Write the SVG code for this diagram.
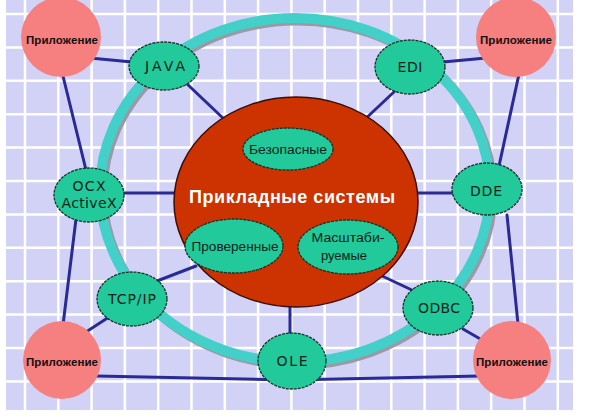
<svg xmlns="http://www.w3.org/2000/svg" width="590" height="418" viewBox="0 0 590 418">
<defs>
<style>
.grid line{stroke:#ffffff;stroke-width:2.5}
.conn line,.conn polyline{stroke:#2a2a96;stroke-width:3;fill:none;stroke-linecap:round}
.node{fill:#22c99b;stroke:#123326;stroke-width:1.3;stroke-dasharray:3 1}
.app{fill:#f67f7f}
.lbl{font-family:"DejaVu Sans","Liberation Sans",sans-serif;font-size:14px;fill:#0a2218;text-anchor:middle}
.in{font-family:"Liberation Sans",Arial,sans-serif;font-size:13px;fill:#0a2218;text-anchor:middle}
.applbl{font-family:"Liberation Sans",Arial,sans-serif;font-size:11.5px;font-weight:bold;fill:#111111;text-anchor:middle}
.title{font-family:"Liberation Sans",Arial,sans-serif;font-size:18px;font-weight:bold;fill:#ffffff;text-anchor:middle}
</style>
</defs>
<rect x="0" y="0" width="590" height="418" fill="#ffffff"/>
<rect x="6" y="0" width="567" height="410" fill="#d2d2f7"/>
<g class="grid">
<line x1="25" y1="0" x2="25" y2="410"/><line x1="58.3" y1="0" x2="58.3" y2="410"/><line x1="91.6" y1="0" x2="91.6" y2="410"/><line x1="124.9" y1="0" x2="124.9" y2="410"/><line x1="158.2" y1="0" x2="158.2" y2="410"/><line x1="191.5" y1="0" x2="191.5" y2="410"/><line x1="224.8" y1="0" x2="224.8" y2="410"/><line x1="258.1" y1="0" x2="258.1" y2="410"/><line x1="291.4" y1="0" x2="291.4" y2="410"/><line x1="324.7" y1="0" x2="324.7" y2="410"/><line x1="358" y1="0" x2="358" y2="410"/><line x1="391.3" y1="0" x2="391.3" y2="410"/><line x1="424.6" y1="0" x2="424.6" y2="410"/><line x1="457.9" y1="0" x2="457.9" y2="410"/><line x1="491.2" y1="0" x2="491.2" y2="410"/><line x1="524.5" y1="0" x2="524.5" y2="410"/><line x1="557.8" y1="0" x2="557.8" y2="410"/>
<line x1="6" y1="14" x2="573" y2="14"/><line x1="6" y1="47.4" x2="573" y2="47.4"/><line x1="6" y1="80.8" x2="573" y2="80.8"/><line x1="6" y1="114.2" x2="573" y2="114.2"/><line x1="6" y1="147.6" x2="573" y2="147.6"/><line x1="6" y1="181" x2="573" y2="181"/><line x1="6" y1="214.4" x2="573" y2="214.4"/><line x1="6" y1="247.8" x2="573" y2="247.8"/><line x1="6" y1="281.2" x2="573" y2="281.2"/><line x1="6" y1="314.6" x2="573" y2="314.6"/><line x1="6" y1="348" x2="573" y2="348"/><line x1="6" y1="381.4" x2="573" y2="381.4"/>
</g>
<g id="ring">
<ellipse cx="297.5" cy="192.5" rx="195" ry="172" fill="none" stroke="#9a9aa6" stroke-width="10"/>
<ellipse cx="295" cy="190" rx="195" ry="172" fill="none" stroke="#42d0c8" stroke-width="10"/>
</g>
<g id="connectors" class="conn">
<line x1="90" y1="58" x2="132" y2="62"/>
<line x1="62" y1="72" x2="86" y2="170"/>
<line x1="186" y1="83" x2="225" y2="120"/>
<line x1="395" y1="91" x2="362" y2="122"/>
<line x1="443" y1="62" x2="486" y2="58"/>
<line x1="519" y1="74" x2="499" y2="166"/>
<line x1="122" y1="193" x2="178" y2="193"/>
<line x1="412" y1="193" x2="454" y2="193"/>
<line x1="76" y1="219" x2="63" y2="325"/>
<line x1="157" y1="281" x2="196" y2="266"/>
<line x1="86" y1="332" x2="109" y2="317"/>
<polyline points="96,376 290,380 480,376"/>
<line x1="290" y1="300" x2="290" y2="336"/>
<line x1="380" y1="275" x2="414" y2="291"/>
<line x1="463" y1="329" x2="482" y2="340"/>
<line x1="507" y1="215" x2="518" y2="324"/>
</g>
<g id="core">
<ellipse cx="296" cy="202" rx="122" ry="105" fill="#cc3300" stroke="#3a0e06" stroke-width="1.5"/>
<text class="title" x="292" y="203" textLength="206" lengthAdjust="spacing">Прикладные системы</text>
</g>
<g id="safe">
<ellipse class="node" cx="288" cy="149" rx="45" ry="21"/>
<text class="in" x="288" y="154" textLength="78" lengthAdjust="spacingAndGlyphs">Безопасные</text>
</g>
<g id="verified">
<ellipse class="node" cx="234" cy="246" rx="49" ry="27"/>
<text class="in" x="235" y="251" textLength="87" lengthAdjust="spacingAndGlyphs">Проверенные</text>
</g>
<g id="scalable">
<ellipse class="node" cx="348" cy="247" rx="50" ry="27"/>
<text class="in" x="348" y="242" textLength="73" lengthAdjust="spacingAndGlyphs">Масштаби-</text>
<text class="in" x="344" y="260">руемые</text>
</g>
<g id="java">
<ellipse class="node" cx="164" cy="66" rx="35" ry="24"/>
<text class="lbl" x="165" y="71" textLength="40" lengthAdjust="spacing">JAVA</text>
</g>
<g id="edi">
<ellipse class="node" cx="410" cy="67" rx="35" ry="27"/>
<text class="lbl" x="410" y="72" textLength="25" lengthAdjust="spacing">EDI</text>
</g>
<g id="ocx">
<ellipse class="node" cx="89" cy="195" rx="35" ry="27"/>
<text class="lbl" x="89" y="191" textLength="33" lengthAdjust="spacing">OCX</text>
<text class="lbl" x="89" y="208" textLength="55" lengthAdjust="spacing">ActiveX</text>
</g>
<g id="dde">
<ellipse class="node" cx="487" cy="189" rx="35" ry="26"/>
<text class="lbl" x="486" y="196" textLength="32" lengthAdjust="spacing">DDE</text>
</g>
<g id="tcpip">
<ellipse class="node" cx="132" cy="299" rx="35" ry="27"/>
<text class="lbl" x="132" y="304" textLength="48" lengthAdjust="spacing">TCP/IP</text>
</g>
<g id="odbc">
<ellipse class="node" cx="438" cy="308" rx="35" ry="27"/>
<text class="lbl" x="439" y="313" textLength="42" lengthAdjust="spacing">ODBC</text>
</g>
<g id="ole">
<ellipse class="node" cx="292" cy="361" rx="34" ry="28"/>
<text class="lbl" x="292" y="366" textLength="31" lengthAdjust="spacing">OLE</text>
</g>
<g id="app-tl">
<circle class="app" cx="61" cy="37" r="40"/>
<text class="applbl" x="62" y="44" textLength="72" lengthAdjust="spacing">Приложение</text>
</g>
<g id="app-tr">
<circle class="app" cx="516" cy="37" r="40"/>
<text class="applbl" x="516" y="44" textLength="72" lengthAdjust="spacing">Приложение</text>
</g>
<g id="app-bl">
<circle class="app" cx="62" cy="360" r="39"/>
<text class="applbl" x="62" y="366" textLength="72" lengthAdjust="spacing">Приложение</text>
</g>
<g id="app-br">
<circle class="app" cx="512" cy="360" r="39"/>
<text class="applbl" x="512" y="366" textLength="72" lengthAdjust="spacing">Приложение</text>
</g>
</svg>
